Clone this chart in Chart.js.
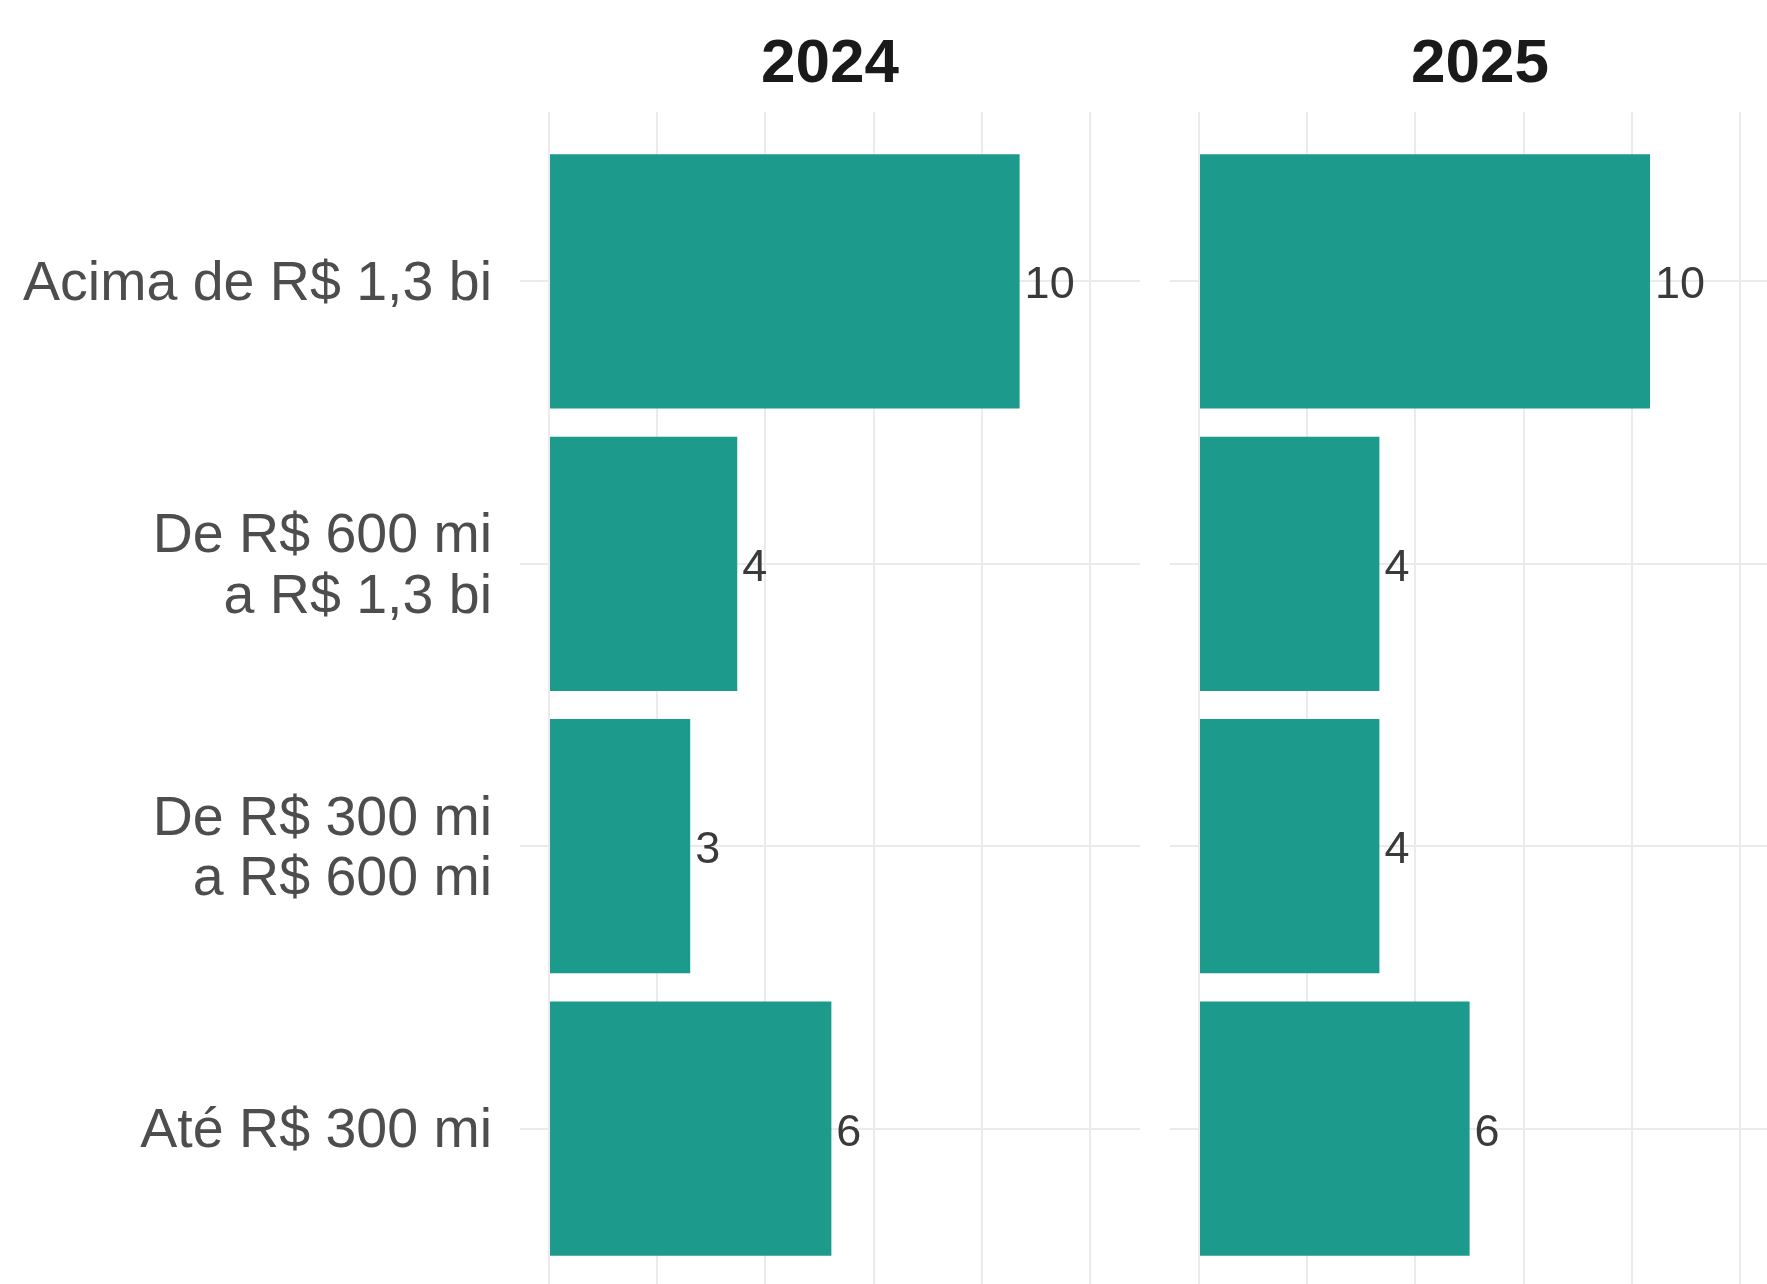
<!DOCTYPE html>
<html>
<head>
<meta charset="utf-8">
<script src="https://cdn.jsdelivr.net/npm/chart.js@4.4.1/dist/chart.umd.min.js"></script>
<style>
  body { margin: 0; width: 1767px; height: 1284px; overflow: hidden; background: #fff; position: relative; }
  canvas { position: absolute; top: 0; }
  #chart2024 { left: 0; }
  #chart2025 { left: 1170px; }
</style>
</head>
<body>
<canvas id="chart2024" width="1140" height="1300"></canvas>
<canvas id="chart2025" width="620" height="1300"></canvas>
<script>
// faixas de faturamento (de cima para baixo)
const categories = [
  ['Acima de R$ 1,3 bi'],
  ['De R$ 600 mi', 'a R$ 1,3 bi'],
  ['De R$ 300 mi', 'a R$ 600 mi'],
  ['Até R$ 300 mi']
];
const years = ['2024', '2025'];
const counts2024 = [10, 4, 3, 6];
const counts2025 = [10, 4, 4, 6];
const gridTicks = [0, 10, 20, 30, 40, 50];

const FONT = '"Liberation Sans", Arial, sans-serif';
const barColor = '#1c9a8b';
const gridColor = '#ebebeb';

// titulo do painel (2024 / 2025)
const panelTitle = {
  id: 'panelTitle',
  afterDraw(chart, args, opts) {
    const ctx = chart.ctx;
    const area = chart.chartArea;
    ctx.save();
    ctx.font = 'bold 62px ' + FONT;
    ctx.fillStyle = '#1a1a1a';
    ctx.textAlign = 'center';
    ctx.textBaseline = 'alphabetic';
    ctx.fillText(opts.text, (area.left + area.right) / 2, 82);
    ctx.restore();
  }
};

// rotulos com as contagens ao lado das barras
const valueLabels = {
  id: 'valueLabels',
  afterDatasetsDraw(chart, args, opts) {
    const ctx = chart.ctx;
    const meta = chart.getDatasetMeta(0);
    ctx.save();
    ctx.font = '45px ' + FONT;
    ctx.fillStyle = '#3a3a3a';
    ctx.textAlign = 'left';
    ctx.textBaseline = 'alphabetic';
    meta.data.forEach((bar, i) => {
      ctx.fillText(String(opts.counts[i]), bar.x + 5, bar.y + 17);
    });
    ctx.restore();
  }
};

function makeChart(id, year, counts, showLabels) {
  const total = counts.reduce((a, b) => a + b, 0);
  const points = counts.map((c, i) => ({ x: c / total * 100, y: i + 1 }));

  return new Chart(document.getElementById(id), {
    type: 'bar',
    data: {
      datasets: [{
        data: points,
        backgroundColor: barColor,
        borderWidth: 0,
        barPercentage: 0.9,
        categoryPercentage: 1.0
      }]
    },
    options: {
      indexAxis: 'y',
      responsive: false,
      animation: false,
      events: [],
      layout: { padding: { top: 112, right: 0, bottom: 2, left: 0 } },
      plugins: {
        legend: { display: false },
        tooltip: { enabled: false },
        panelTitle: { text: year },
        valueLabels: { counts: counts }
      },
      scales: {
        x: {
          type: 'linear',
          min: -2.68,
          max: 54.6,
          afterBuildTicks: (scale) => { scale.ticks = gridTicks.map(v => ({ value: v })); },
          afterFit: (scale) => { scale.height = 0; },
          ticks: { display: false },
          grid: { color: gridColor, lineWidth: 2, drawTicks: false },
          border: { display: false }
        },
        y: {
          type: 'linear',
          reverse: true,
          offset: false,
          bounds: 'data',
          min: 0.4,
          max: 4.6,
          afterBuildTicks: (scale) => { scale.ticks = categories.map((c, i) => ({ value: i + 1 })); },
          afterFit: (scale) => {
            scale.width = showLabels ? 520 : 0;
            scale.paddingTop = 0;
            scale.paddingBottom = 0;
          },
          ticks: {
            display: showLabels,
            padding: 28,
            labelOffset: 3.5,
            color: '#4d4d4d',
            font: { family: FONT, size: 55.5, lineHeight: 1.09 },
            callback: (v) => categories[Math.round(v) - 1]
          },
          grid: { color: gridColor, lineWidth: 2, drawTicks: false, offset: false },
          border: { display: false }
        }
      }
    },
    plugins: [panelTitle, valueLabels]
  });
}

makeChart('chart2024', years[0], counts2024, true);
makeChart('chart2025', years[1], counts2025, false);
</script>
</body>
</html>
